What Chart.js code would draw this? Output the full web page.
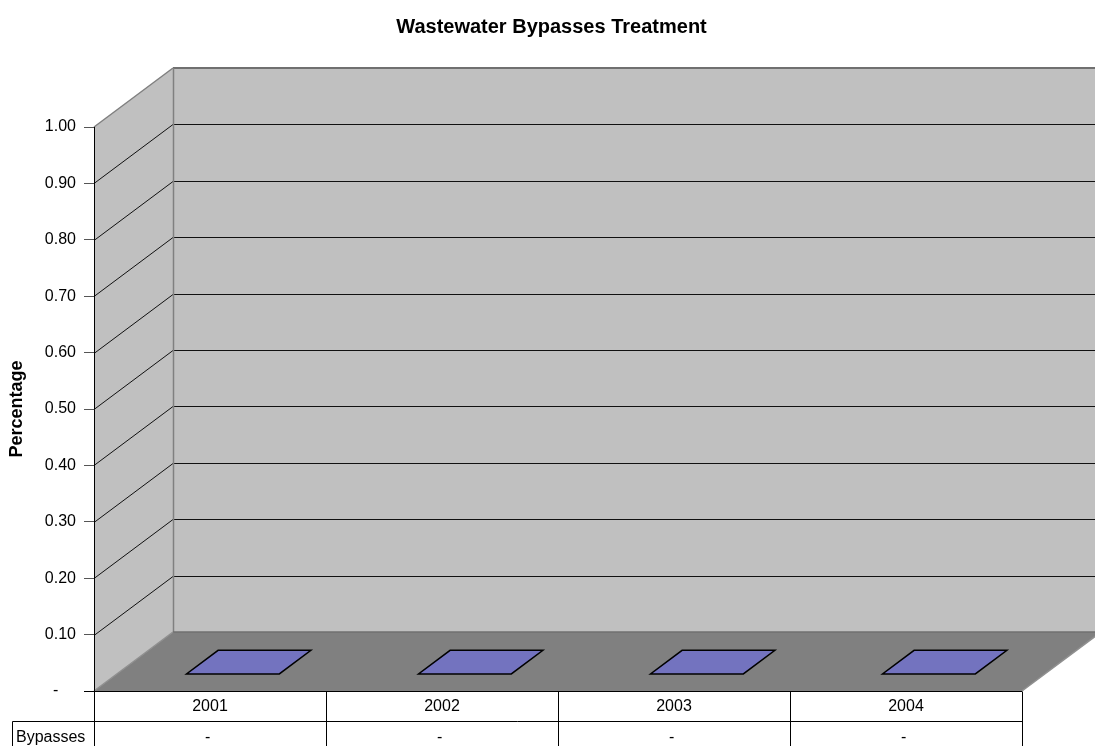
<!DOCTYPE html>
<html>
<head>
<meta charset="utf-8">
<title>Wastewater Bypasses Treatment</title>
<script src="https://cdn.jsdelivr.net/npm/chart.js@4.4.1/dist/chart.umd.min.js"></script>
<style>
  html, body { margin: 0; padding: 0; background: #fff; }
  #wrap { width: 1095px; height: 746px; }
</style>
</head>
<body>
<div id="wrap"><canvas id="bypassChart"></canvas></div>
<script>
// Chart data
const years = ['2001', '2002', '2003', '2004'];
const bypasses = [0, 0, 0, 0];
const seriesName = 'Bypasses';
const axisMin = 0;
const axisMax = 1;
const axisStep = 0.1;

const FONT = 'Arial, "Liberation Sans", sans-serif';
const DX = 79, DY = 59;          // depth offset of the 3D box
const BAR_FRONT = 0.29, BAR_BACK = 0.69;

function poly(ctx, pts, fill, stroke, lw) {
    ctx.beginPath();
    ctx.moveTo(pts[0][0], pts[0][1]);
    for (let i = 1; i < pts.length; i++) ctx.lineTo(pts[i][0], pts[i][1]);
    ctx.closePath();
    if (fill) { ctx.fillStyle = fill; ctx.fill(); }
    if (stroke) { ctx.strokeStyle = stroke; ctx.lineWidth = lw || 1; ctx.stroke(); }
}

function seg(ctx, x1, y1, x2, y2, color, lw) {
    ctx.beginPath();
    ctx.moveTo(x1, y1);
    ctx.lineTo(x2, y2);
    ctx.strokeStyle = color;
    ctx.lineWidth = lw || 1;
    ctx.stroke();
}

// Walls, floor and gridlines of the 3D box
const box3d = {
    id: 'box3d',
    beforeDraw(chart) {
        const ctx = chart.ctx, x = chart.scales.x, y = chart.scales.y;
        const l = x.left, r = x.right;
        const y0 = y.getPixelForValue(axisMin), y1 = y.getPixelForValue(axisMax);
        ctx.save();
        poly(ctx, [[l + DX, y1 - DY], [r + DX, y1 - DY], [r + DX, y0 - DY], [l + DX, y0 - DY]], '#c0c0c0');
        poly(ctx, [[l, y1], [l + DX, y1 - DY], [l + DX, y0 - DY], [l, y0]], '#c0c0c0');
        y.ticks.forEach(t => {
            if (t.value <= axisMin) return;
            const py = Math.round(y.getPixelForValue(t.value)) + 0.5;
            seg(ctx, l + DX, py - DY, r + DX, py - DY, '#111', 1.2);
            if (t.value < axisMax) seg(ctx, l, py, l + DX, py - DY, '#111', 1);
        });
        poly(ctx, [[l, y0], [r, y0], [r + DX, y0 - DY], [l + DX, y0 - DY]], '#808080');
        // wall edges
        seg(ctx, l, y1, l + DX, y1 - DY, '#808080', 1.5);
        seg(ctx, l + DX, y1 - DY, r + DX, y1 - DY, '#707070', 2);
        seg(ctx, l + DX + 0.5, y1 - DY, l + DX + 0.5, y0 - DY, '#808080', 1.5);
        seg(ctx, l + DX, y0 - DY, r + DX, y0 - DY, '#707070', 1.5);
        seg(ctx, l, y0, l + DX, y0 - DY, '#909090', 1.5);
        seg(ctx, r, y0, r + DX, y0 - DY, '#909090', 1.5);
        ctx.restore();
    },
    afterDatasetsDraw(chart) {
        const ctx = chart.ctx;
        const ds = chart.data.datasets[0];
        ctx.save();
        chart.getDatasetMeta(0).data.forEach(bar => {
            const h = bar.width / 2, top = bar.y;
            poly(ctx, [
                [bar.x - h + DX * BAR_FRONT, top - DY * BAR_FRONT],
                [bar.x + h + DX * BAR_FRONT, top - DY * BAR_FRONT],
                [bar.x + h + DX * BAR_BACK, top - DY * BAR_BACK],
                [bar.x - h + DX * BAR_BACK, top - DY * BAR_BACK]
            ], ds.backgroundColor, '#000', 1.5);
        });
        ctx.restore();
    },
    afterDraw(chart) {
        // data table under the floor
        const ctx = chart.ctx, x = chart.scales.x, y = chart.scales.y;
        const y0 = Math.round(y.getPixelForValue(axisMin)) + 0.5;
        const row2 = y0 + 30, bottom = chart.height;
        const catW = (x.right - x.left) / years.length;
        ctx.save();
        seg(ctx, x.left - 10, y0, x.right, y0, '#000', 1);
        for (let i = 0; i <= years.length; i++) {
            const px = Math.round(x.left + i * catW) + 0.5;
            seg(ctx, px, y0, px, bottom, '#000', 1);
        }
        seg(ctx, 12.5, row2, x.right, row2, '#000', 1);
        seg(ctx, 12.5, row2, 12.5, bottom, '#000', 1);
        ctx.fillStyle = '#000';
        ctx.font = '16px ' + FONT;
        ctx.textBaseline = 'middle';
        ctx.textAlign = 'center';
        years.forEach((yr, i) => {
            const px = x.getPixelForValue(i);
            ctx.fillText(yr, px, y0 + 15);
            ctx.fillText(bypasses[i] === 0 ? '- ' : bypasses[i].toFixed(2), px, row2 + 16);
        });
        ctx.textAlign = 'left';
        ctx.fillText(seriesName, 16, row2 + 16);
        ctx.restore();
    }
};

const ctxBypass = document.getElementById('bypassChart').getContext('2d');
new Chart(ctxBypass, {
    type: 'bar',
    data: {
        labels: years,
        datasets: [{
            label: seriesName,
            data: bypasses,
            backgroundColor: '#7373bf',
            borderWidth: 0,
            barPercentage: 0.4,
            categoryPercentage: 1
        }]
    },
    options: {
        responsive: true,
        maintainAspectRatio: false,
        animation: false,
        layout: { padding: { left: 8, right: 0, top: 0, bottom: 55 } },
        plugins: {
            legend: { display: false },
            tooltip: { enabled: false },
            title: {
                display: true,
                text: 'Wastewater Bypasses Treatment',
                color: '#000',
                font: { family: FONT, size: 20, weight: 'bold' },
                padding: { top: 15, bottom: 88 }
            }
        },
        scales: {
            x: { display: false },
            y: {
                min: axisMin,
                max: axisMax,
                afterFit: s => { s.width = 86; },
                ticks: {
                    stepSize: axisStep,
                    color: '#000',
                    padding: 8,
                    font: { family: FONT, size: 16 },
                    callback: v => v === 0 ? '-    ' : v.toFixed(2)
                },
                grid: { drawOnChartArea: false, drawTicks: true, tickLength: 10, tickColor: '#555' },
                border: { display: true, color: '#000', width: 1 },
                title: {
                    display: true,
                    text: 'Percentage',
                    color: '#000',
                    font: { family: FONT, size: 18, weight: 'bold', lineHeight: 1 },
                    padding: { top: 0, bottom: 0 }
                }
            },
            // empty right-hand strip that keeps the floor short of the canvas edge
            spacer: {
                type: 'linear',
                position: 'right',
                display: true,
                afterFit: s => { s.width = 73; },
                ticks: { display: false },
                grid: { display: false, drawTicks: false },
                border: { display: false }
            }
        }
    },
    plugins: [box3d]
});
</script>
</body>
</html>
